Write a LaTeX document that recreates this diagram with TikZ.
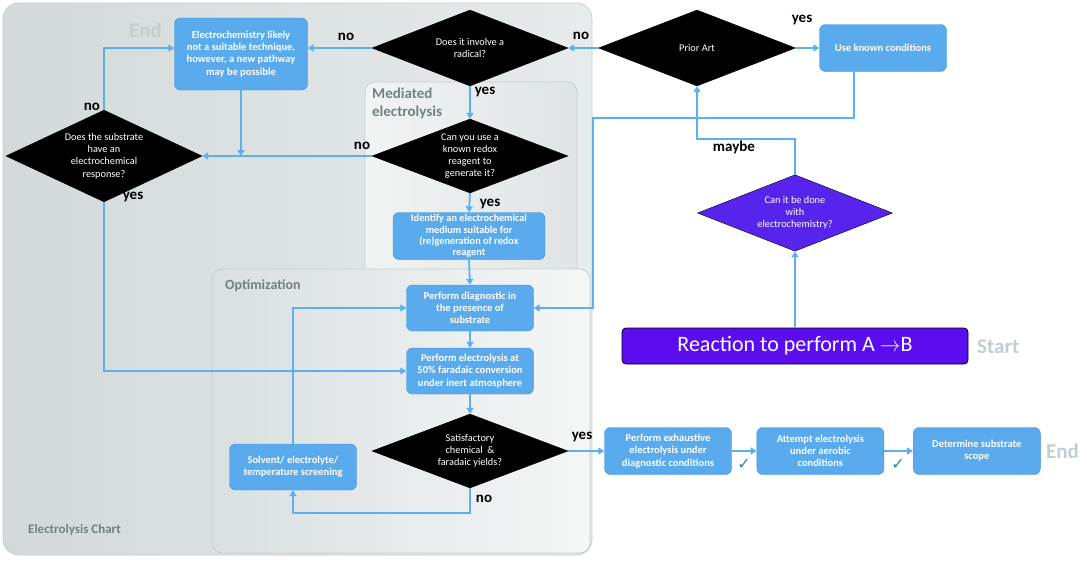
\documentclass[tikz,border=0pt]{standalone}
\usepackage{fontspec}
\setmainfont{Carlito}
\newfontfamily\dejavu{DejaVu Sans}
\usepackage{tikz}
\usetikzlibrary{arrows.meta,positioning,shapes.geometric}
\definecolor{elecBlue}{HTML}{5AAAEE}
\definecolor{elecBlueEdge}{HTML}{3E8ED6}
\definecolor{elecLine}{HTML}{5CB0F2}
\definecolor{elecViolet}{HTML}{5A0EF0}
\definecolor{elecVioletQ}{HTML}{5724EE}
\definecolor{elecTag}{HTML}{C4CDD1}
\definecolor{elecPanelText}{HTML}{718082}
\definecolor{elecPanelEdge}{HTML}{C6CCCC}
\definecolor{elecCheck}{HTML}{2C86C2}
\definecolor{panelOutL}{HTML}{D3D9D9}
\definecolor{panelOutR}{HTML}{E8EBEB}
\definecolor{panelMedL}{HTML}{F2F4F4}
\definecolor{panelMedR}{HTML}{E0E4E4}
\definecolor{panelOptL}{HTML}{DADFDF}
\definecolor{panelOptR}{HTML}{F5F7F7}
\tikzset{
  paso/.style={draw=elecBlueEdge, fill=elecBlue, rounded corners=6pt, text=white, align=center, font=\bfseries\fontsize{10.5}{12.2}\selectfont, minimum width=127pt, minimum height=47pt, inner sep=1pt},
  rombo/.style={diamond, fill=#1, draw=black, text=white, align=center, font=\fontsize{10.3}{12.2}\selectfont, minimum width=196pt, minimum height=76pt, inner sep=-8pt},
  rombo/.default=black,
  reaccion/.style={draw=black, thick, fill=elecViolet, rounded corners=4pt, text=white, font=\fontsize{22}{26}\selectfont, minimum width=346pt, minimum height=36pt},
  arrflow/.style={-{Triangle[length=6pt,width=7pt]}, elecLine, line width=1.8pt},
  resp/.style={font=\bfseries\fontsize{15}{15}\selectfont, inner sep=0pt},
  endtag/.style={font=\bfseries\fontsize{21}{21}\selectfont, text=elecTag, inner sep=0pt},
  panel/.style={rounded corners=#1, draw=elecPanelEdge, line width=0.8pt},
  panel/.default=10pt,
  panelname/.style={font=\bfseries\fontsize{15}{18}\selectfont, text=elecPanelText, align=left, inner sep=0pt},
}
\begin{document}
\begin{tikzpicture}[x=1pt, y=-1pt]
\useasboundingbox (0,0) rectangle (1087,563);
\path[panel=16pt, left color=panelOutL, right color=panelOutR] (3,3) rectangle (592,555);
\path[panel, left color=panelMedL, right color=panelMedR] (365,82) rectangle (577,290);
\path[panel, left color=panelOptL, right color=panelOptR] (212,269) rectangle (590,553);
\node[panelname, anchor=north west] (medname) at (372,88) {Mediated\\electrolysis};
\node[panelname, anchor=west, font=\bfseries\fontsize{14}{16}\selectfont] (optname) at (225,286) {Optimization};
\node[panelname, anchor=west, font=\bfseries\fontsize{13}{16}\selectfont] (chartname) at (28,530) {Electrolysis Chart};
\node[endtag, anchor=west] (endtop) at (129,30) {End};
\node[endtag, anchor=west] (start) at (977,347) {Start};
\node[endtag, anchor=west] (endright) at (1046,451) {End};

\node[paso, minimum width=133pt, minimum height=72pt] (noviable) at (241,54) {Electrochemistry likely\\not a suitable technique,\\however, a new pathway\\may be possible};
\node[rombo] (radical) at (470,48) {Does it involve a\\radical?};
\node[rombo, minimum width=197pt] (prior) at (697,48) {Prior Art};
\node[paso] (known) at (883,48) {Use known conditions};
\node[rombo] (substrate) at (104,156) {Does the substrate\\have an\\electrochemical\\response?};
\node[rombo, minimum height=74pt] (redox) at (470,156) {Can you use a\\known redox\\reagent to\\generate it?};
\node[paso, minimum width=152pt, font=\bfseries\fontsize{10.3}{11.2}\selectfont] (medium) at (469,236) {Identify an electrochemical\\medium suitable for\\(re)generation of redox\\reagent};
\node[paso, minimum height=46pt] (diag) at (470,308) {Perform diagnostic in\\the presence of\\substrate};
\node[paso, minimum height=46pt] (run) at (470,371) {Perform electrolysis at\\50\% faradaic conversion\\under inert atmosphere};
\node[rombo, minimum height=74pt] (yields) at (470,451) {Satisfactory\\chemical \ \&\\faradaic yields?};
\node[paso, minimum height=46pt] (screen) at (293,467) {Solvent/ electrolyte/\\temperature screening};
\node[reaccion] (reaction) at (795,346) {Reaction to perform A \ensuremath{\rightarrow}B};
\node[rombo=elecVioletQ, minimum width=195pt, minimum height=75pt] (canit) at (795,213) {Can it be done\\with\\electrochemistry?};
\node[paso] (exhaust) at (668,451) {Perform exhaustive\\electrolysis under\\diagnostic conditions};
\node[paso, right=25pt of exhaust] (aerobic) {Attempt electrolysis\\under aerobic\\conditions};
\node[paso, right=29pt of aerobic] (scope) {Determine substrate\\scope};
\node[text=elecCheck, font=\dejavu\fontsize{16}{16}\selectfont, inner sep=0pt] (okA) at (744,464) {✓};
\node[text=elecCheck, font=\dejavu\fontsize{16}{16}\selectfont, inner sep=0pt] (okB) at (898,464) {✓};

\coordinate (knownturn) at (854,118);
\coordinate (sideturn) at (593,118);
\draw[arrflow] (radical.west) -- (radical.west -| noviable.east);
\draw[arrflow] (prior.west) -- (radical.east);
\draw[arrflow] (prior.east) -- (known.west);
\draw[arrflow] (known.south -| knownturn) -- (knownturn) -- (sideturn) |- (diag.east);
\draw[arrflow] (canit.north) -- ++(0,-36) -| (prior.south);
\draw[arrflow] (reaction.north) -- (canit.south);
\draw[arrflow] (radical.south) -- (redox.north);
\draw[arrflow] (redox.west) -- (substrate.east);
\draw[arrflow] (noviable.south) -- (noviable.south |- substrate.east);
\draw[arrflow] (substrate.north) |- ([yshift=6pt]noviable.west);
\draw[arrflow] (substrate.south) |- (run.west);
\draw[arrflow] (redox.south) -- (medium.north);
\draw[arrflow] (medium.south) -- (diag.north);
\draw[arrflow] (diag.south) -- (run.north);
\draw[arrflow] (run.south) -- (yields.north);
\draw[arrflow] (yields.south) -- ++(0,25) -| (screen.south);
\draw[arrflow] (screen.north) |- (diag.west);
\draw[arrflow] (yields.east) -- (exhaust.west);
\draw[arrflow] (exhaust) -- (aerobic);
\draw[arrflow] (aerobic) -- (scope);

\node[resp] (noA) at (346,37) {no};
\node[resp] (noB) at (581,36) {no};
\node[resp] (yesA) at (802,20) {yes};
\node[resp] (maybe) at (734,147) {maybe};
\node[resp] (yesB) at (485,92) {yes};
\node[resp] (noC) at (362,146) {no};
\node[resp] (yesC) at (490,204) {yes};
\node[resp] (noD) at (92,107) {no};
\node[resp] (yesD) at (133,197) {yes};
\node[resp] (noE) at (484,499) {no};
\node[resp] (yesE) at (582,437) {yes};
\end{tikzpicture}
\end{document}
